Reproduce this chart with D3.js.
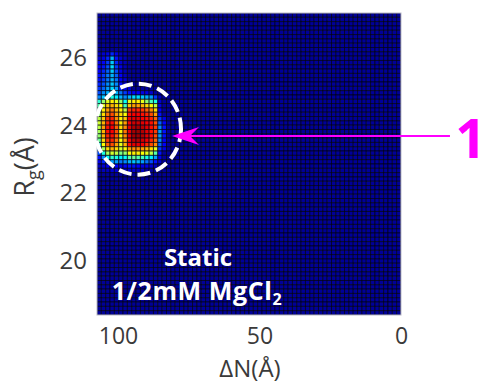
<!DOCTYPE html>
<html><head><meta charset="utf-8">
<script src="https://cdn.jsdelivr.net/npm/d3@7"></script>
<style>body{margin:0;background:#fff}svg{display:block}</style>
</head><body>
<svg id="c" width="487" height="384"></svg>
<script>
// ---- data ----
const xTicks = [100, 50, 0];
const yTicks = [20, 22, 24, 26];
const xDomain = [107.4, 0];          // ΔN (Å), reversed
const yDomain = [18.4, 27.32];       // Rg (Å)
const nCols = 70, nRows = 70;        // histogram bins
const backgroundLevel = 0.025;       // normalized density outside the peak
// peak patch: rows counted from top (high Rg), cols counted from left (high ΔN)
const patchRow0 = 9, patchCol0 = 0;
const patch = [
  [.06,.08,.10,.16,.10,.06,.05],
  [.08,.10,.16,.30,.14,.08,.05],
  [.10,.12,.18,.32,.16,.08,.05],
  [.12,.14,.20,.34,.18,.10,.05],
  [.12,.16,.22,.32,.20,.10,.05],
  [.14,.18,.24,.30,.22,.12,.06],
  [.14,.18,.24,.30,.24,.12,.08],
  [.16,.20,.26,.32,.26,.14,.08],
  [.18,.22,.28,.34,.28,.16,.10,.08],
  [.20,.26,.30,.34,.30,.24,.18,.14,.12,.12,.10,.10,.08],
  [.26,.32,.36,.40,.36,.30,.26,.30,.34,.34,.32,.30,.28,.18,.06],
  [.42,.52,.60,.64,.60,.52,.38,.60,.64,.64,.60,.52,.44,.40,.08],
  [.46,.60,.68,.70,.66,.62,.44,.68,.72,.72,.70,.66,.62,.56,.10],
  [.50,.64,.72,.76,.70,.64,.56,.82,.84,.84,.82,.78,.74,.66,.12],
  [.52,.66,.76,.80,.72,.66,.62,.86,.88,.88,.86,.84,.80,.72,.14],
  [.56,.68,.82,.84,.74,.64,.68,.88,.90,.90,.88,.86,.84,.78,.18,.10],
  [.58,.70,.84,.86,.76,.64,.72,.88,.92,.92,.90,.88,.86,.80,.22,.12],
  [.56,.72,.86,.88,.78,.66,.74,.90,.95,.96,.94,.90,.86,.82,.26,.14],
  [.54,.70,.86,.88,.80,.64,.76,.90,.96,.97,.95,.90,.86,.82,.28,.14],
  [.52,.70,.84,.86,.78,.64,.74,.90,.96,.97,.95,.90,.86,.80,.28,.14],
  [.48,.66,.82,.84,.76,.62,.72,.88,.94,.95,.92,.88,.84,.78,.26,.12],
  [.40,.62,.78,.80,.72,.60,.70,.86,.90,.90,.88,.84,.80,.74,.22,.12],
  [.30,.54,.66,.70,.66,.58,.62,.72,.74,.74,.72,.70,.66,.60,.18,.10],
  [.20,.40,.54,.58,.56,.50,.52,.62,.64,.64,.62,.60,.56,.46,.14],
  [.14,.26,.38,.42,.40,.36,.38,.46,.48,.46,.44,.40,.36,.28,.10],
  [.10,.16,.22,.28,.28,.24,.26,.30,.32,.30,.28,.24,.20,.14,.08],
  [.06,.08,.10,.12,.12,.10,.12,.14,.14,.12,.10,.10,.08,.06],
  [.05,.06,.06,.08,.08,.06,.06,.08,.08,.06,.06]
];
// annotation anchors (data units)
const circleCenter = {n: 92.9, rg: 23.89};
const arrowTip = {n: 80.9, rg: 23.69};
const arrowTail = {n: -17.3, rg: 23.69};
const labelOne = {n: -24.6, rg: 23.04, text: "1"};
const conditionLines = ["Static", "1/2mM MgCl"];

// ---- layout ----
const L = 97, R = 401, T = 13, B = 315;
const x = d3.scaleLinear().domain(xDomain).range([L, R]);
const y = d3.scaleLinear().domain(yDomain).range([B, T]);
const svg = d3.select("#c");
const font = "'Open Sans', 'Noto Sans', sans-serif";

function jet(v){
  const c = t => Math.max(0, Math.min(1, t));
  const r = c(1.5 - Math.abs(4*v - 3)), g = c(1.5 - Math.abs(4*v - 2)), b = c(1.5 - Math.abs(4*v - 1));
  return d3.rgb(r*255, g*255, b*255).toString();
}

const dN = (xDomain[0] - xDomain[1]) / nCols;
const dR = (yDomain[1] - yDomain[0]) / nRows;
const cells = [];
for (let j = 0; j < nRows; j++) {
  for (let i = 0; i < nCols; i++) {
    const pr = patch[j - patchRow0], pv = pr ? pr[i - patchCol0] : undefined;
    cells.push({n: xDomain[0] - i*dN, rg: yDomain[1] - j*dR, v: pv !== undefined ? pv : backgroundLevel});
  }
}
const cw = Math.abs(x(0) - x(dN)), ch = Math.abs(y(0) - y(dR));
svg.append("clipPath").attr("id","pc").append("rect").attr("x",L).attr("y",T).attr("width",R-L).attr("height",B-T);
const g = svg.append("g").attr("clip-path","url(#pc)");
g.selectAll("rect.cell").data(cells).join("rect").attr("class","cell")
  .attr("x", d => x(d.n)).attr("y", d => y(d.rg))
  .attr("width", cw).attr("height", ch)
  .attr("fill", d => jet(d.v))
  .attr("stroke", "rgba(0,0,20,0.7)").attr("stroke-width", 1);

svg.append("rect").attr("x",L).attr("y",T).attr("width",R-L).attr("height",B-T)
  .attr("fill","none").attr("stroke","#b8b8c8").attr("stroke-width",1);

// axes
const xa = svg.append("g").attr("transform",`translate(0,${B})`)
  .call(d3.axisBottom(x).tickValues(xTicks).tickSize(0).tickPadding(12).tickFormat(d3.format("d")));
xa.select(".domain").remove();
xa.selectAll("text").attr("font-family",font).attr("font-size",23).attr("fill","#3a3a3a").attr("dy","0").attr("y",29);
const ya = svg.append("g").attr("transform",`translate(${L},0)`)
  .call(d3.axisLeft(y).tickValues(yTicks).tickSize(0).tickPadding(10).tickFormat(d3.format("d")));
ya.select(".domain").remove();
ya.selectAll("text").attr("font-family",font).attr("font-size",24).attr("fill","#3a3a3a");

// axis titles
svg.append("text").attr("x",(L+R)/2+1).attr("y",377).attr("text-anchor","middle")
  .attr("font-family",font).attr("font-size",24).attr("fill","#3a3a3a").text("ΔN(Å)");
const yt = svg.append("text").attr("transform",`translate(34,${(T+B)/2+3}) rotate(-90)`).attr("text-anchor","middle")
  .attr("font-family",font).attr("font-size",27).attr("fill","#3a3a3a");
yt.append("tspan").text("R");
yt.append("tspan").attr("font-size",18).attr("dy",6).text("g");
yt.append("tspan").attr("dy",-6).text("(Å)");

// dashed circle
svg.append("ellipse").attr("cx",x(circleCenter.n)).attr("cy",y(circleCenter.rg))
  .attr("rx",43).attr("ry",45.5).attr("fill","none").attr("stroke","#fff")
  .attr("stroke-width",4).attr("stroke-dasharray","13 6");

// arrow
const tx = x(arrowTip.n), ty = y(arrowTip.rg);
svg.append("line").attr("x1",tx+15).attr("y1",ty).attr("x2",x(arrowTail.n)).attr("y2",y(arrowTail.rg))
  .attr("stroke","#ff00ff").attr("stroke-width",2);
svg.append("path").attr("d",`M${tx},${ty} L${tx+27},${ty-9} L${tx+18},${ty} L${tx+27},${ty+9} Z`)
  .attr("fill","#ff00ff");
svg.append("text").attr("x",x(labelOne.n)).attr("y",y(labelOne.rg)).attr("text-anchor","middle")
  .attr("font-family",font).attr("font-weight","bold").attr("font-size",54).attr("fill","#ff00ff").text(labelOne.text);

// condition text
svg.append("text").attr("x",198).attr("y",266).attr("text-anchor","middle")
  .attr("font-family",font).attr("font-weight","bold").attr("font-size",24).attr("fill","#fff").text(conditionLines[0]);
const t2 = svg.append("text").attr("x",197).attr("y",300).attr("text-anchor","middle")
  .attr("font-family",font).attr("font-weight","bold").attr("font-size",25).attr("letter-spacing",0.6).attr("fill","#fff");
t2.append("tspan").text(conditionLines[1]);
t2.append("tspan").attr("font-size",16).attr("dy",5).text("2");
</script>
</body></html>
